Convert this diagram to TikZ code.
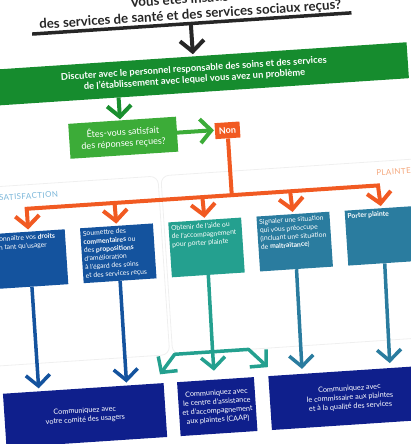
\documentclass[tikz,border=0pt]{standalone}
\usepackage{fontspec}
\setmainfont{Lato}
\usepackage{tikz}
\usetikzlibrary{arrows.meta, positioning, calc}
\definecolor{titlegray}{HTML}{262626}
\definecolor{darkgreen}{HTML}{168C2E}
\definecolor{lightgreen}{HTML}{3CAC38}
\definecolor{nonorange}{HTML}{F15A22}
\definecolor{boxblue}{HTML}{14539E}
\definecolor{boxteal}{HTML}{24A08F}
\definecolor{boxsteel}{HTML}{2A7C9F}
\definecolor{navy}{HTML}{0F1F8C}
\definecolor{satblue}{HTML}{7AB6D9}
\definecolor{plaintorange}{HTML}{F4A77C}
\definecolor{panelgray}{HTML}{EFEFEF}
\newcommand{\celltext}[1]{\parbox[c][49pt][t]{68pt}{\raggedright #1}}

\begin{document}
\begin{tikzpicture}[x=1pt, y=-1pt,
        chevron/.style={-{Straight Barb[length=11pt, width=24pt]}},
        wide/.style={line width=4pt},
        box/.style={text=white, inner sep=2.5pt, minimum width=73pt, minimum height=55pt},
        cell/.style={box, font=\fontsize{6.8}{8.4}\selectfont},
        target/.style={fill=navy, text=white, align=center, minimum height=54pt, font=\fontsize{7.3}{9}\selectfont},
        seclabel/.style={anchor=west, inner sep=0pt, font=\fontsize{8}{10}\selectfont\addfontfeatures{LetterSpace=5}},
        panel/.style={draw=panelgray, line width=0.8pt, rounded corners=8pt}
    ]
    \clip (0,0) rectangle (411,444);
    \begin{scope}[rotate around={3.8:(205,222)}, transform shape]
        \draw[panel] (-30,173) rectangle (161,352);
        \draw[panel] (164,173) rectangle (440,352);

        \node[anchor=south, inner sep=0pt, align=center, text=titlegray, font=\bfseries\fontsize{13.3}{15.5}\selectfont] (title) at (204,21) {Vous êtes insatisfait\\des services de santé et des services sociaux reçus?};
        \coordinate (ul) at (45,23);
        \coordinate (ur) at (365,23);
        \coordinate (ua) at (204,23);
        \draw[titlegray, line width=3.5pt] (ul) -- (ur);

        \node[fill=darkgreen, text=white, align=center, minimum width=428pt, minimum height=36pt, font=\bfseries\fontsize{9.4}{11}\selectfont] (discuss) at (204,74) {Discuter avec le personnel responsable des soins et des services\\de l’établissement avec lequel vous avez un problème};
        \node[fill=lightgreen, text=white, align=center, minimum width=108pt, minimum height=35pt, font=\fontsize{9.1}{11}\selectfont] (ask) at (129,132.5) {Êtes-vous satisfait\\des réponses reçues?};
        \node[fill=nonorange, text=white, minimum width=25pt, minimum height=16pt, inner sep=0pt, font=\bfseries\fontsize{9}{10}\selectfont] (non) at (233.5,132) {Non};

        \draw[chevron, wide, titlegray, shorten >=2pt] (ua) -- (discuss.north);
        \coordinate (dg) at (127,92);
        \coordinate (ag) at (127,115);
        \draw[chevron, wide, darkgreen!90!lightgreen, shorten >=1pt] (dg) -- (ag);
        \coordinate (aw) at (183,131);
        \coordinate (nw) at (221,131);
        \draw[chevron, wide, lightgreen, shorten >=1pt] (aw) -- (nw);

        \node[seclabel, text=satblue] (lsat) at (1,184.5) {SATISFACTION};
        \node[seclabel, text=plaintorange] (lpl) at (379,184.5) {PLAINTE};

        \node[cell, fill=boxblue] (s1) at (28,247.5) {\celltext{Connaître vos \textbf{droits}\\en tant qu’usager}};
        \node[cell, fill=boxblue, right=15pt of s1] (s2) {\celltext{Soumettre des\\\textbf{commentaires} ou\\des \textbf{propositions}\\d’amélioration\\à l’égard des soins\\et des services reçus}};
        \node[cell, fill=boxteal, right=15pt of s2] (s3) {\celltext{Obtenir de l’aide ou\\de l’accompagnement\\pour porter plainte}};
        \node[cell, fill=boxsteel, right=15pt of s3] (s4) {\celltext{Signaler une situation\\qui vous préoccupe\\(incluant une situation\\de \textbf{maltraitance})}};
        \node[cell, fill=boxsteel, right=15pt of s4] (s5) {\celltext{\textbf{Porter plainte}}};

        \coordinate (nb) at (233.5,197);
        \coordinate (b1) at (28,197);
        \coordinate (b2) at (116,197);
        \coordinate (b3) at (204,197);
        \coordinate (b4) at (292,197);
        \coordinate (b5) at (380,197);
        \draw[wide, nonorange] (non.south) -- (nb);
        \draw[wide, nonorange, line cap=rect] (b1) -- (b5);
        \foreach \i in {1,...,5}
            \draw[chevron, wide, nonorange, shorten >=2pt] (b\i) -- (s\i.north);

        \node[target, minimum width=161pt] (ca) at (72.5,407) {Communiquez avec\\votre comité des usagers};
        \node[target, minimum width=73pt] (cb) at (205,407) {Communiquez avec\\le centre d’assistance\\et d’accompagnement\\aux plaintes (CAAP)};
        \node[target, minimum width=160pt] (cc) at (338,407) {Communiquez avec\\le commissaire aux plaintes\\et à la qualité des services};

        \coordinate (t1) at (28,377);
        \coordinate (t2) at (116,377);
        \coordinate (t4) at (292,375);
        \coordinate (t5) at (380,375);
        \draw[chevron, line width=3.5pt, boxblue] (s1.south) -- (t1);
        \draw[chevron, line width=3.5pt, boxblue] (s2.south) -- (t2);
        \draw[chevron, line width=3.5pt, boxsteel] (s4.south) -- (t4);
        \draw[chevron, line width=3.5pt, boxsteel] (s5.south) -- (t5);

        \coordinate (tj) at (204,352);
        \coordinate (tl) at (166,352);
        \coordinate (tr) at (240,352);
        \coordinate (tlt) at (150,371);
        \coordinate (tct) at (204,371);
        \coordinate (trt) at (258,371);
        \draw[line width=3.5pt, boxteal] (s3.south) -- (tj);
        \draw[chevron, line width=3.5pt, boxteal] (tj) -- (tct);
        \draw[chevron, line width=3.5pt, boxteal, line join=round] (tj) -- (tl) -- (tlt);
        \draw[chevron, line width=3.5pt, boxteal, line join=round] (tj) -- (tr) -- (trt);
    \end{scope}
\end{tikzpicture}
\end{document}
